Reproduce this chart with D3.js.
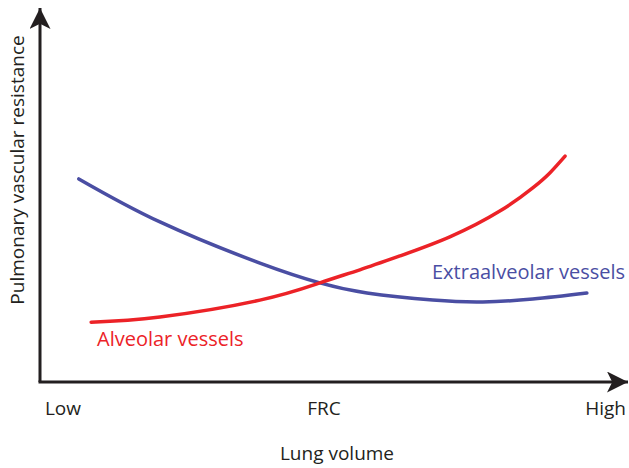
<!DOCTYPE html>
<html>
<head>
<meta charset="utf-8">
<script src="https://cdn.jsdelivr.net/npm/d3@7"></script>
<style>
  body { margin: 0; background: #fff; }
  text { font-family: "Open Sans", sans-serif; }
</style>
</head>
<body>
<script>
// Lung volume (arbitrary units 0-100) and resistance (arbitrary units 0-100)
const alveolarX = [8.7, 20.4, 37.4, 47.6, 54.4, 61.2, 69.7, 78.2, 83.8, 86.7, 89.3];
const alveolarY = [16.0, 17.4, 21.9, 26.5, 30.0, 33.7, 38.8, 45.7, 51.9, 55.9, 60.4];
const extraX = [6.6, 20.4, 37.4, 47.6, 55.6, 66.8, 75.3, 83.8, 93.0];
const extraY = [54.3, 42.8, 31.8, 26.5, 23.8, 21.9, 21.4, 22.2, 23.8];
const tickValues = [3.9, 48.3, 96.2];
const tickLabels = ["Low", "FRC", "High"];

const width = 629, height = 468;
const svg = d3.select("body").append("svg")
    .attr("width", width)
    .attr("height", height);

const x = d3.scaleLinear().domain([0, 100]).range([40, 628]);
const y = d3.scaleLinear().domain([0, 100]).range([382, 8]);

// arrow heads
const defs = svg.append("defs");
defs.append("marker")
    .attr("id", "arrow")
    .attr("viewBox", "0 0 10 10")
    .attr("refX", 10).attr("refY", 5)
    .attr("markerWidth", 7).attr("markerHeight", 7)
    .attr("markerUnits", "strokeWidth")
    .attr("orient", "auto")
  .append("path")
    .attr("d", "M0,0 L10,5 L0,10 L2.5,5 Z")
    .attr("fill", "#231f20");

// axes
svg.append("line")
    .attr("x1", x(0)).attr("y1", y(0))
    .attr("x2", x(0)).attr("y2", y(100))
    .attr("stroke", "#231f20").attr("stroke-width", 3)
    .attr("marker-end", "url(#arrow)");
svg.append("line")
    .attr("x1", x(0) - 1.5).attr("y1", y(0))
    .attr("x2", x(100)).attr("y2", y(0))
    .attr("stroke", "#231f20").attr("stroke-width", 3)
    .attr("marker-end", "url(#arrow)");

// tick labels
svg.selectAll(".tick")
    .data(tickValues)
    .enter().append("text")
    .attr("x", d => x(d))
    .attr("y", 415)
    .attr("text-anchor", "middle")
    .attr("font-size", 19)
    .attr("fill", "#231f20")
    .text((d, i) => tickLabels[i]);

svg.append("text")
    .attr("x", 337).attr("y", 460)
    .attr("text-anchor", "middle")
    .attr("font-size", 19)
    .attr("fill", "#231f20")
    .text("Lung volume");

svg.append("text")
    .attr("transform", "translate(24,170) rotate(-90)")
    .attr("text-anchor", "middle")
    .attr("font-size", 19)
    .attr("fill", "#231f20")
    .text("Pulmonary vascular resistance");

// curves
const line = d3.line()
    .x(d => x(d[0]))
    .y(d => y(d[1]))
    .curve(d3.curveNatural);

svg.append("path")
    .attr("d", line(d3.zip(extraX, extraY)))
    .attr("fill", "none")
    .attr("stroke", "#4a4ea3")
    .attr("stroke-width", 3.5)
    .attr("stroke-linecap", "round");

svg.append("path")
    .attr("d", line(d3.zip(alveolarX, alveolarY)))
    .attr("fill", "none")
    .attr("stroke", "#ec2227")
    .attr("stroke-width", 3.5)
    .attr("stroke-linecap", "round");

svg.append("text")
    .attr("x", 97).attr("y", 346)
    .attr("font-size", 20)
    .attr("fill", "#ec2227")
    .text("Alveolar vessels");

svg.append("text")
    .attr("x", 432).attr("y", 279)
    .attr("font-size", 20)
    .attr("fill", "#4a4ea3")
    .text("Extraalveolar vessels");
</script>
</body>
</html>
